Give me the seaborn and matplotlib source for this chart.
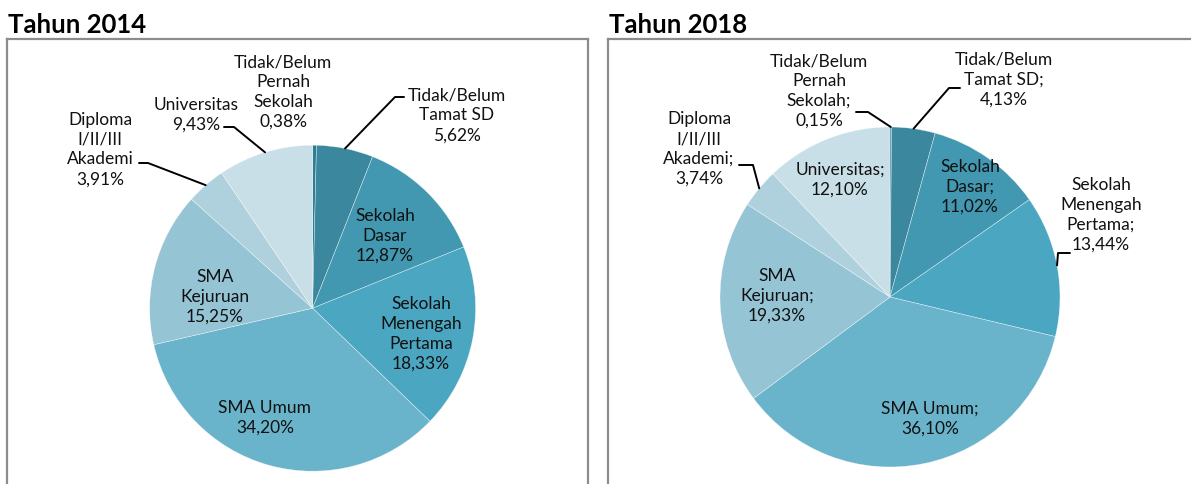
import matplotlib
matplotlib.use("Agg")
import matplotlib.pyplot as plt
import seaborn as sns
import numpy as np
from matplotlib.lines import Line2D

# ---------------- data ----------------
categories = ["Tidak/Belum\nPernah\nSekolah", "Tidak/Belum\nTamat SD", "Sekolah\nDasar",
              "Sekolah\nMenengah\nPertama", "SMA Umum", "SMA\nKejuruan",
              "Diploma\nI/II/III\nAkademi", "Universitas"]
values_2014 = [0.38, 5.62, 12.87, 18.33, 34.20, 15.25, 3.91, 9.43]
values_2018 = [0.15, 4.13, 11.02, 13.44, 36.10, 19.33, 3.74, 12.10]
titles = ["Tahun 2014", "Tahun 2018"]
separators = ["", ";"]

# ---------------- style ----------------
colors = ["#2e7d93", "#3b889e", "#4298b0", "#4aa6c1", "#6ab4cb", "#95c4d5", "#afd1dd", "#c8dfe7"]

sns.set_theme(style="white")
plt.rcParams["font.family"] = ["Lato", "DejaVu Sans"]

W, H = 1191, 485
fig = plt.figure(figsize=(W / 100, H / 100), dpi=100)
fig.patch.set_facecolor("white")

# layout in pixels (top-left origin)
panels = [
    dict(frame=(7, 588), top=40, center=(312.6, 309.2), r=163,
         title_xy=(8, 33), hide=("bottom",),
         label_xy=[(283, 92), (457, 115.5), (385, 235.6), (421, 334), (265, 418),
                   (215, 296.7), (100, 149.5), (196, 114.5)],
         leaders={1: [(404, 98), (395, 98)], 6: [(139, 164), (148, 164)],
                  7: [(224, 128), (234, 128)]}),
    dict(frame=(608, 1200), top=40, center=(890, 298), r=170,
         title_xy=(609, 33), hide=("bottom", "right"),
         label_xy=[(819, 91), (1004, 79.5), (970, 187), (1101, 214.5), (930, 418.5),
                   (777, 295.7), (699, 149), (840, 179.5)],
         leaders={0: [(856, 113), (868, 113)], 1: [(960, 89), (949, 89)],
                  3: [(1070, 254), (1058, 254)], 6: [(739, 166), (753, 166)]}),
]


def fx(x):
    return x / W


def fy(y):
    return 1 - y / H


for values, title, sep, P in zip([values_2014, values_2018], titles, separators, panels):
    left, right = P["frame"]
    top = P["top"]
    cx, cy = P["center"]
    r = P["r"]
    ax = fig.add_axes([fx(left), 0, (right - left) / W, (H - top) / H])
    wedges, _ = ax.pie(values, startangle=90, counterclock=False, colors=colors,
                       radius=1, center=(0, 0), frame=True,
                       wedgeprops=dict(edgecolor=(1, 1, 1, 0.6), linewidth=0.4))
    ax.set_aspect("auto")
    ax.set_xlim((left - cx) / r, (right - cx) / r)
    ax.set_ylim((cy - H) / r, (cy - top) / r)
    ax.set_xticks([])
    ax.set_yticks([])
    for s in ax.spines.values():
        s.set_color("#8c8c8c")
        s.set_linewidth(1.6)
    for s in P["hide"]:
        ax.spines[s].set_visible(False)

    fig.text(fx(P["title_xy"][0]), fy(P["title_xy"][1]), title, fontsize=18.5,
             fontweight="bold", ha="left", va="baseline", color="black")

    for i, (cat, v) in enumerate(zip(categories, values)):
        lbl = f"{cat}{sep}\n{v:.2f}%".replace(".", ",")
        lx, ly = P["label_xy"][i]
        fig.text(fx(lx), fy(ly), lbl, ha="center", va="center", fontsize=12.5,
                 linespacing=1.3, color="#111111")
        if i in P["leaders"]:
            w = wedges[i]
            mid = np.deg2rad((w.theta1 + w.theta2) / 2)
            disp = ax.transData.transform((np.cos(mid), np.sin(mid)))
            ex, ey = fig.transFigure.inverted().transform(disp)
            pts = P["leaders"][i]
            xs = [fx(pts[0][0]), fx(pts[1][0]), ex]
            ys = [fy(pts[0][1]), fy(pts[1][1]), ey]
            fig.add_artist(Line2D(xs, ys, transform=fig.transFigure, color="black",
                                  linewidth=1.4))

fig.savefig("out.png", dpi=100, facecolor="white")
